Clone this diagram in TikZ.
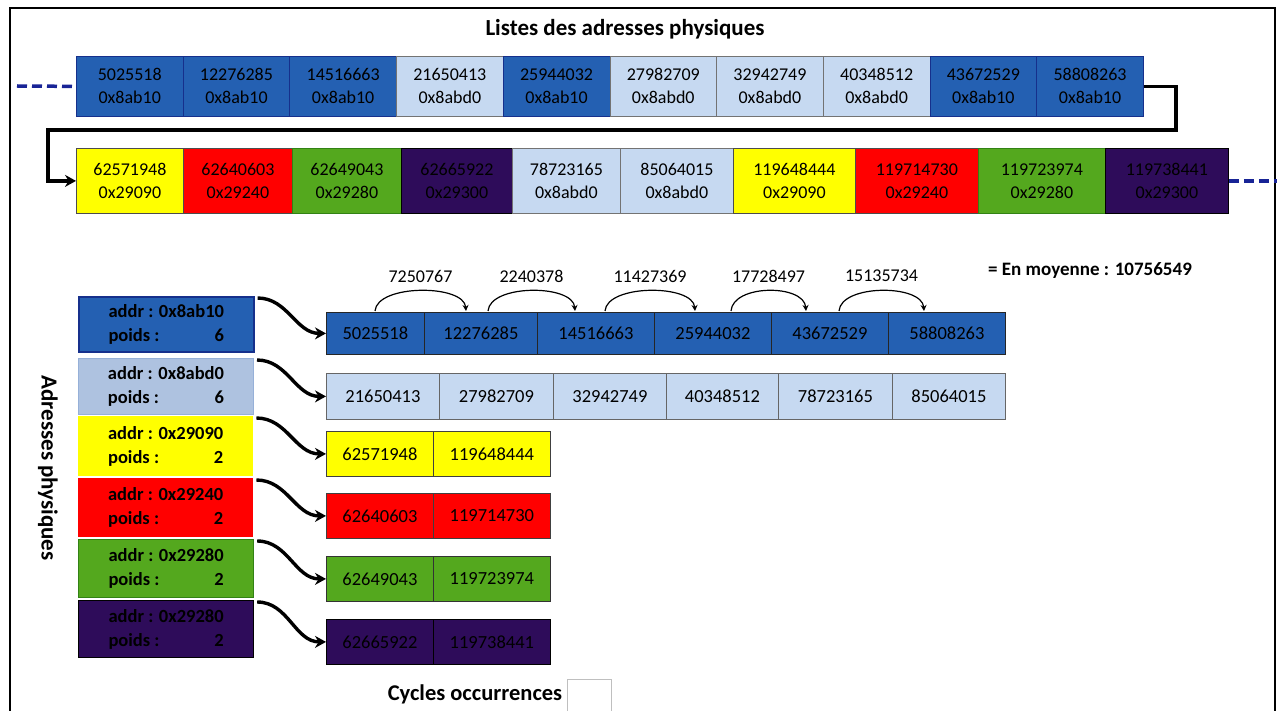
\documentclass[tikz,border=0pt]{standalone}
\usepackage{fontspec}
\usepackage{calc}
\setmainfont{Carlito}
\usetikzlibrary{arrows.meta}

\definecolor{cblue}{RGB}{36,96,178}
\definecolor{cbluedk}{RGB}{22,48,140}
\definecolor{clight}{RGB}{198,217,241}
\definecolor{csteel}{RGB}{174,194,224}
\definecolor{csteeldk}{RGB}{150,176,216}
\definecolor{cyel}{RGB}{255,255,0}
\definecolor{cred}{RGB}{255,0,0}
\definecolor{cgreen}{RGB}{84,168,30}
\definecolor{cgreendk}{RGB}{50,130,20}
\definecolor{cpurple}{RGB}{46,12,90}
\definecolor{cnavy}{RGB}{24,36,150}

% two-line key text: address, then the weight pushed to the same right edge
\newcommand\keytext[2]{addr : #1\\\makebox[\widthof{addr : #1}]{poids :\hfill #2}}

\begin{document}
\begin{tikzpicture}[x=1pt,y=-1pt,
  cell/.style={anchor=north west, inner sep=0pt, align=center, line width=0.8pt},
  pair/.style={cell, minimum height=60pt, font=\fontsize{18}{23}\selectfont},
  lcell/.style={cell, font=\fontsize{18.5}{22}\selectfont},
  keybox/.style={anchor=north west, minimum width=175pt, inner sep=0pt, align=center,
    font=\bfseries\fontsize{18.5}{24}\selectfont},
  link/.style={line width=3.4pt, -{Stealth[length=11pt,width=12pt]}},
  hop/.style={line width=1.2pt, -{Stealth[length=6pt,width=6pt]}},
  dashlink/.style={cnavy, line width=3.5pt, dash pattern=on 10pt off 5pt},
  bold/.style={font=\bfseries\fontsize{#1}{#1}\selectfont},
]
\useasboundingbox (0,0) rectangle (1282,711);

% outer frame (open at the bottom)
\coordinate (fbl) at (10,715);
\coordinate (ftl) at (10,8);
\coordinate (ftr) at (1275,8);
\coordinate (fbr) at (1275,715);
\draw[line width=2.4pt] (fbl) -- (ftl) -- (ftr) -- (fbr);

\node[bold=23] (title) at (625,29) {Listes des adresses physiques};

% first line of the physical address list
\foreach \v/\h/\c/\d [count=\i] in {
  5025518/0x8ab10/cblue/cbluedk, 12276285/0x8ab10/cblue/cbluedk,
  14516663/0x8ab10/cblue/cbluedk, 21650413/0x8abd0/clight/black!55,
  25944032/0x8ab10/cblue/cbluedk, 27982709/0x8abd0/clight/black!55,
  32942749/0x8abd0/clight/black!55, 40348512/0x8abd0/clight/black!55,
  43672529/0x8ab10/cblue/cbluedk, 58808263/0x8ab10/cblue/cbluedk}
  \node[pair, minimum width=106.7pt, fill=\c, draw=\d] (t\i) at ({76+106.7*(\i-1)},56) {\v\\\h};

% second line of the list
\foreach \x/\w/\v/\h/\c/\d [count=\i] in {
  76/107/62571948/0x29090/cyel/black!70, 183/109/62640603/0x29240/cred/black!70,
  292/109/62649043/0x29280/cgreen/cgreendk, 401/111/62665922/0x29300/cpurple/black,
  512/108/78723165/0x8abd0/clight/black!55, 620/113/85064015/0x8abd0/clight/black!55,
  733/122/119648444/0x29090/cyel/black!70, 855/123/119714730/0x29240/cred/black!70,
  978/127/119723974/0x29280/cgreen/cgreendk, 1105/123/119738441/0x29300/cpurple/black}
  \node[pair, minimum height=65pt, minimum width=\w pt, fill=\c, draw=\d] (s\i) at (\x,148) {\v\\\h};

% continuation marks and wrap-around connector
\coordinate (dl) at (17,86);
\coordinate (dr) at (1277,181);
\draw[dashlink] (dl) -- (t1.west);
\draw[dashlink] (s10.east) -- (s10.east -| dr);
\coordinate (k1) at (1176,130);
\coordinate (k2) at (48,130);
\draw[link, line join=miter] (t10.east) -| (k1) -- (k2) |- (s1.west);

% key boxes: address and weight
\node[keybox, fill=cblue, draw=cbluedk, line width=1.6pt, minimum height=55pt] (a1) at (78,296)
  {\keytext{0x8ab10}{6}};
\node[keybox, fill=csteel, draw=csteeldk, line width=1pt, minimum height=56pt] (a2) at (78,358)
  {\keytext{0x8abd0}{6}};
\node[keybox, fill=cyel, minimum height=60pt] (a3) at (78,416)
  {\keytext{0x29090}{2}};
\node[keybox, fill=cred, minimum height=59pt] (a4) at (78,478)
  {\keytext{0x29240}{2}};
\node[keybox, fill=cgreen, draw=cgreendk, line width=1.2pt, minimum height=58pt] (a5) at (78,539)
  {\keytext{0x29280}{2}};
\node[keybox, fill=cpurple, draw=black, line width=1.2pt, minimum height=57pt] (a6) at (78,600)
  {\keytext{0x29280}{2}};

\node[bold=23, rotate=-90] (vt) at (48,468) {Adresses physiques};

% per-address lists
\foreach \x/\w/\v [count=\j] in {326/98/5025518, 424/113/12276285, 537/117/14516663,
    654/117/25944032, 771/117/43672529, 888/117/58808263}
  \node[lcell, minimum width=\w pt, minimum height=42pt, fill=cblue, draw=black!85] (p1c\j) at (\x,312) {\v};
\foreach \x/\w/\v [count=\j] in {326/113/21650413, 439/114/27982709, 553/113/32942749,
    666/112/40348512, 778/114/78723165, 892/113/85064015}
  \node[lcell, minimum width=\w pt, minimum height=46pt, fill=clight, draw=black!60] (p2c\j) at (\x,373) {\v};
\foreach \r/\y/\c/\d/\va/\vb in {3/431/cyel/black!75/62571948/119648444,
    4/493/cred/black!75/62640603/119714730,
    5/556/cgreen/black!80/62649043/119723974,
    6/619/cpurple/black/62665922/119738441} {
  \node[lcell, minimum width=107pt, minimum height=45pt, fill=\c, draw=\d] (p\r c1) at (326,\y) {\va};
  \node[lcell, minimum width=117pt, minimum height=45pt, fill=\c, draw=\d] (p\r c2) at (433,\y) {\vb};
}

% links from each key box to its list
\foreach \r in {1,...,6}
  \draw[link] ([xshift=3pt,yshift=-2pt]a\r.north east) to[out=0,in=180] (p\r c1.west);

% gaps between consecutive addresses
\foreach \a/\b/\t in {375/466/7250767, 488/575/2240378, 605/695/11427369,
    731/806/17728497, 839/924/15135734} {
  \coordinate (hs\a) at (\a,311);
  \coordinate (he\a) at (\b,311);
  \draw[hop] (hs\a) .. controls +(2,-27) and +(-2,-27) .. (he\a);
  \node[font=\fontsize{18}{20}\selectfont] (g\a) at ({(\a+\b)/2},276) {\t};
}
\node[bold=19] (avg) at (1090,271) {= En moyenne : 10756549};

\node[bold=22.5] (cyc) at (475,694) {Cycles occurrences};
\node[anchor=north west, draw=black!25, line width=0.8pt, minimum width=44pt, minimum height=36pt] (cycbox) at (567,679) {};
\end{tikzpicture}
\end{document}
